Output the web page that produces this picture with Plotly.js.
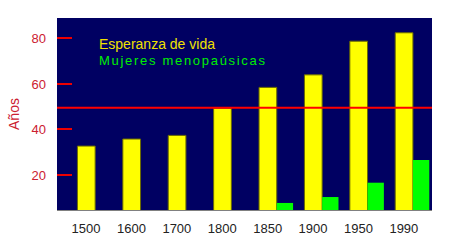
<!DOCTYPE html>
<html>
<head>
<meta charset="utf-8">
<script src="https://cdn.plot.ly/plotly-3.0.1.min.js"></script>
<style>
  html, body { margin: 0; padding: 0; background: #fff; }
  #chart { width: 450px; height: 250px; }
  .annotation[data-index="1"] text { letter-spacing: 1.7px; }
</style>
</head>
<body>
<div id="chart"></div>
<script>
// Data
const years = ['1500', '1600', '1700', '1800', '1850', '1900', '1950', '1990'];
const esperanzaVida = [32.7, 35.8, 37.4, 49.3, 58.5, 64, 78.8, 82.5];
const mujeresMenopausicas = [null, null, null, null, 7.7, 10.3, 16.6, 26.6];
const referenceLine = 49.5;
const yTicks = [20, 40, 60, 80];

const idx = years.map((_, i) => i);

const traces = [
  {
    type: 'bar', x: idx, y: esperanzaVida, name: 'Esperanza de vida',
    width: 0.39, offset: -0.39,
    marker: { color: '#ffff00', line: { color: '#6b6b00', width: 1 } },
    showlegend: false, hoverinfo: 'skip'
  },
  {
    type: 'bar', x: idx, y: mujeresMenopausicas, name: 'Mujeres menopaúsicas',
    width: 0.36, offset: 0,
    marker: { color: '#00ff00', line: { width: 0 } },
    showlegend: false, hoverinfo: 'skip'
  }
];

const layout = {
  width: 450, height: 250,
  margin: { l: 57, r: 18, t: 18, b: 40, pad: 0 },
  paper_bgcolor: '#ffffff',
  plot_bgcolor: '#000062',
  barmode: 'overlay',
  font: { family: 'Liberation Sans, Arial, sans-serif', size: 13, color: '#222' },
  xaxis: {
    range: [-0.84, 7.42],
    tickmode: 'array',
    tickvals: idx.map(i => i - 0.2),
    ticktext: years,
    ticks: '', showgrid: false, zeroline: false,
    showline: true, linecolor: '#808080', linewidth: 1,
    tickfont: { size: 13, color: '#222' },
    ticklabelstandoff: 6
  },
  yaxis: {
    range: [4.6, 89],
    tickmode: 'array', tickvals: yTicks,
    ticks: 'inside', ticklen: 15, tickwidth: 2, tickcolor: '#ee0000',
    showgrid: false, zeroline: false, showline: false,
    tickfont: { size: 13, color: '#cc2030' },
    ticklabelstandoff: 10,
    title: { text: 'Años', font: { size: 14, color: '#cc2030' }, standoff: 8 }
  },
  shapes: [
    { type: 'line', xref: 'paper', x0: 0, x1: 1, yref: 'y', y0: referenceLine, y1: referenceLine,
      line: { color: '#ff0000', width: 2 } }
  ],
  annotations: [
    { xref: 'paper', yref: 'paper', x: 0.107, y: 0.865, xanchor: 'left', yanchor: 'middle',
      text: 'Esperanza de vida', showarrow: false,
      font: { size: 14, color: '#f0e000' } },
    { xref: 'paper', yref: 'paper', x: 0.153, y: 0.78, xanchor: 'left', yanchor: 'middle',
      text: 'Mujeres menopaúsicas', showarrow: false,
      font: { size: 13, color: '#00ee00' } }
  ]
};

Plotly.newPlot('chart', traces, layout, { displayModeBar: false, staticPlot: true });
</script>
</body>
</html>
